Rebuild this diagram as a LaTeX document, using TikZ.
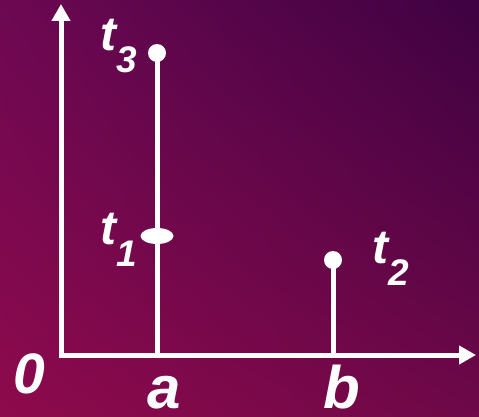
\documentclass[tikz,border=0pt]{standalone}
\usepackage{fontspec}
\setmainfont{Liberation Sans}
\usetikzlibrary{arrows.meta,shapes.geometric,shadings}

\definecolor{bgll}{RGB}{142,10,76}
\definecolor{bgul}{RGB}{108,8,82}
\definecolor{bglr}{RGB}{110,8,72}
\definecolor{bgur}{RGB}{62,2,66}

\newcommand{\subidx}[1]{{\fontsize{37}{37}\selectfont\raisebox{-22pt}{#1}}}

\begin{document}
\begin{tikzpicture}[x=1pt,y=-1pt,
  axisline/.style={white,line width=5pt,line join=miter,{Triangle[length=17pt,width=18pt]}-{Triangle[length=17pt,width=18pt]}},
  stem/.style={white,line width=5pt},
  dot/.style={circle,fill=white,inner sep=0pt,minimum size=18pt},
  lbl/.style={white,inner sep=0pt,font=\bfseries\itshape\fontsize{48}{48}\selectfont},
  big/.style={white,inner sep=0pt,text depth=0pt,font=\bfseries\itshape\fontsize{60}{60}\selectfont}]
\useasboundingbox (0,0) rectangle (479,417);
\shade[lower left=bgll,upper left=bgul,lower right=bglr,upper right=bgur] (0,0) rectangle (479,417);
\coordinate (O) at (61,355);
\coordinate (Y) at (61,4);
\coordinate (X) at (476,355);
\coordinate (A) at (157,355);
\coordinate (B) at (333,355);
\draw[axisline] (Y)--(O)--(X);
% points on the two stems
\node[dot] (T3) at (157,53) {};
\node[dot] (T2) at (333,260) {};
\draw[stem] (A)--(T3.center);
\draw[stem] (B)--(T2.center);
\node[ellipse,fill=white,inner sep=0pt,minimum width=33pt,minimum height=16pt] (T1) at (157,236) {};
% labels
\node[lbl,anchor=base west] (L3) at (100,51) {t\subidx{3}};
\node[lbl,anchor=base west] (L1) at (100,244) {t\subidx{1}};
\node[lbl,anchor=base west] (L2) at (372,263) {t\subidx{2}};
\node[big,anchor=base,font=\bfseries\itshape\fontsize{57}{57}\selectfont] (L0) at (29,393) {0};
\node[big,anchor=base] (La) at (164,408) {a};
\node[big,anchor=base] (Lb) at (342,408) {b};
\end{tikzpicture}
\end{document}
